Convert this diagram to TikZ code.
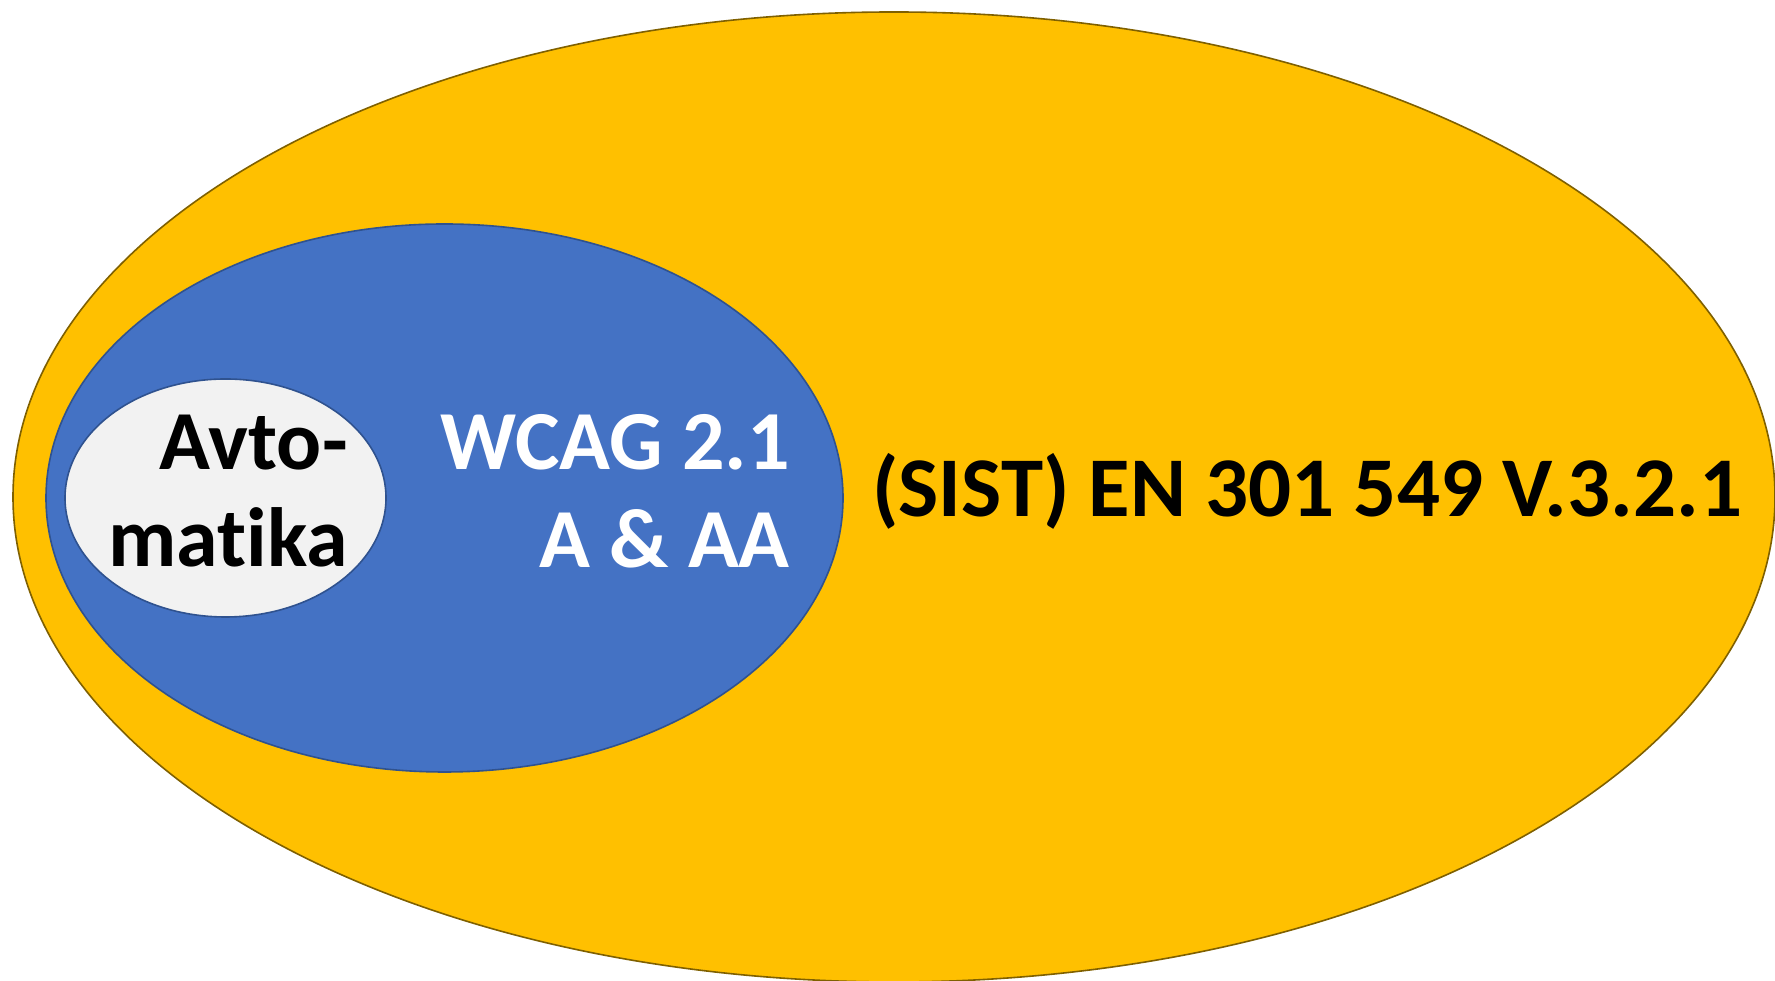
\documentclass[tikz,border=0pt]{standalone}
\usepackage{fontspec}
\setmainfont{Carlito}[Ligatures=NoCommon]
\usetikzlibrary{shapes.geometric}
\definecolor{goldfill}{HTML}{FFC000}
\definecolor{goldline}{HTML}{7F6000}
\definecolor{bluefill}{HTML}{4472C4}
\definecolor{blueline}{HTML}{2F528F}
\definecolor{greyfill}{HTML}{F2F2F2}
\begin{document}
\begin{tikzpicture}[x=1pt,y=1pt,
	areaset/.style={ellipse,inner sep=0pt,outer sep=0pt,line width=1.6pt},
	areatext/.style={font=\fontsize{84}{98}\selectfont\bfseries,inner sep=0pt}]
	\useasboundingbox (0,0) rectangle (1775,981);
	\node[areaset,draw=goldline,fill=goldfill,minimum width=1762,minimum height=970] (sist) at (894,484) {};
	\node[areaset,draw=blueline,fill=bluefill,minimum width=797,minimum height=548] (wcagset) at (444.5,483) {};
	\node[areaset,draw=blueline,fill=greyfill,minimum width=321,minimum height=238] (auto) at (225.5,483) {};
	\node[areatext,anchor=base east] (avto) at (348,511) {Avto-};
	\node[areatext,anchor=base east] (matika) at (348,414) {matika};
	\node[areatext,anchor=base east,text=white] (wcag) at (790,511) {WCAG 2.1};
	\node[areatext,anchor=base east,text=white] (levels) at (790,413) {A \& AA};
	\node[areatext,anchor=base west,font=\fontsize{85}{98}\selectfont\bfseries] (en) at (872,464) {(SIST) EN 301 549 V.3.2.1};
\end{tikzpicture}
\end{document}
